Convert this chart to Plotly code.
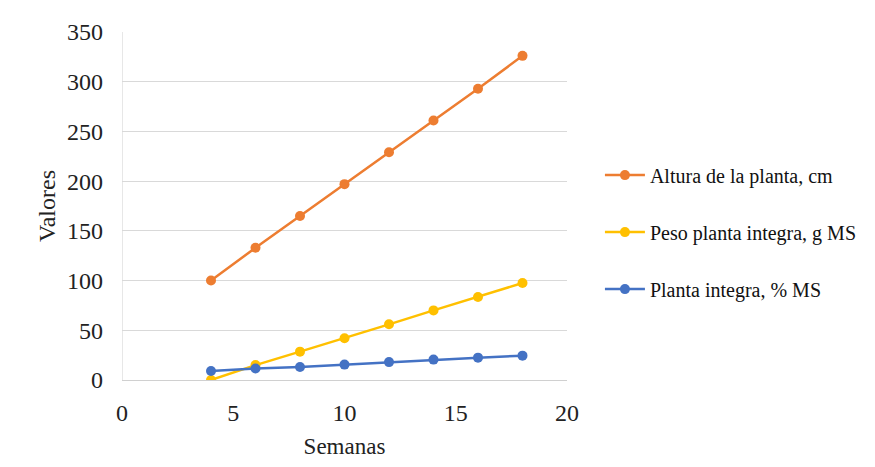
import plotly.graph_objects as go

semanas = [4, 6, 8, 10, 12, 14, 16, 18]
altura = [100, 133, 165, 197, 229, 261, 293, 326]
peso = [0, 15, 28.5, 42, 56, 70, 83.5, 97.5]
planta_ms = [9, 11.5, 13, 15.5, 18, 20.5, 22.5, 24.5]

names = ["Altura de la planta, cm", "Peso planta integra, g MS", "Planta integra, % MS"]
colors = ["#ED7D31", "#FFC000", "#4472C4"]
series = [altura, peso, planta_ms]

fig = go.Figure()
for i, (n, c, s) in enumerate(zip(names, colors, series)):
    fig.add_trace(go.Scatter(x=semanas, y=s, name=n, mode="lines+markers",
                             line=dict(color=c, width=2.5),
                             marker=dict(color=c, size=10),
                             legendgroup=f"g{i}"))

font = "Liberation Serif, Times New Roman, serif"
fig.update_layout(
    width=875, height=467,
    margin=dict(l=114, r=316, t=24, b=95),
    paper_bgcolor="white", plot_bgcolor="white",
    font=dict(family=font, size=24, color="#222"),
    showlegend=True,
    legend=dict(x=1.074, y=0.425, xanchor="left", yanchor="middle",
                font=dict(size=20, family=font, color="#111"),
                tracegroupgap=28, itemwidth=40, bgcolor="rgba(0,0,0,0)"),
    xaxis=dict(range=[0, 20], tickvals=[0, 5, 10, 15, 20], showgrid=False,
               zeroline=False, showline=True, linecolor="#d0d0d0", linewidth=1,
               ticks="", ticklabelstandoff=11,
               title=dict(text="Semanas", font=dict(size=23, family=font), standoff=13)),
    yaxis=dict(range=[0, 350], tickvals=[0, 50, 100, 150, 200, 250, 300, 350],
               showgrid=True, gridcolor="#d9d9d9", gridwidth=1,
               zeroline=False, showline=False, ticks="", ticklabelstandoff=18,
               title=dict(text="Valores", font=dict(size=24, family=font), standoff=4)),
)
fig.add_shape(type="line", xref="x", yref="paper", x0=0, x1=0, y0=0, y1=1,
              line=dict(color="#d0d0d0", width=1), layer="below")
fig.write_html("out.html")
